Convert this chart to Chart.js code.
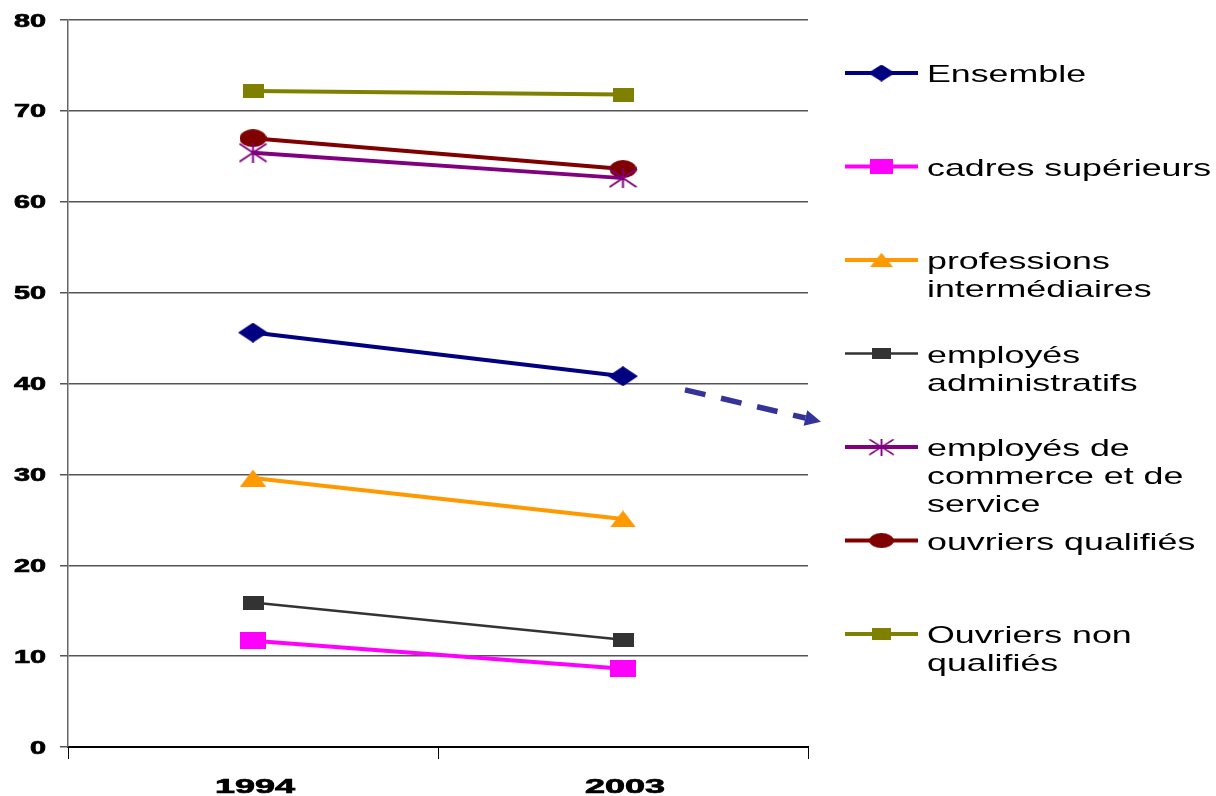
<!DOCTYPE html>
<html>
<head>
<meta charset="utf-8">
<script src="https://cdn.jsdelivr.net/npm/chart.js@4/dist/chart.umd.min.js"></script>
<style>
  html, body { margin: 0; padding: 0; background: #fff; }
  #wrap { width: 1216px; height: 796px; }
</style>
</head>
<body>
<div id="wrap"><canvas id="myChart" width="1216" height="796"></canvas></div>
<script>
// categories and values
const years = ['1994', '2003']
const ensemble = [45.6, 40.8]
const cadres = [11.7, 8.6]
const professions = [29.6, 25.1]
const employesAdmin = [15.9, 11.8]
const employesCommerce = [65.4, 62.6]
const ouvriersQualifies = [67.0, 63.6]
const ouvriersNonQualifies = [72.2, 71.8]
const yTicks = [0, 10, 20, 30, 40, 50, 60, 70, 80]

// legend labels, line breaks as in the picture
const legendLabels = [
  ['Ensemble'],
  ['cadres supérieurs'],
  ['professions', 'intermédiaires'],
  ['employés', 'administratifs'],
  ['employés de', 'commerce et de', 'service'],
  ['ouvriers qualifiés'],
  ['Ouvriers non', 'qualifiés']
]

const FONT = '"Liberation Sans", Arial, sans-serif'

// the original picture is stretched sideways, so markers are drawn wide
const makeMarker = (shape, color, w, h) => {
  let c = document.createElement('canvas')
  c.width = w
  c.height = h
  let g = c.getContext('2d')
  g.fillStyle = color
  g.strokeStyle = color
  g.beginPath()
  if (shape === 'diamond') {
    g.moveTo(w / 2, 0); g.lineTo(w, h / 2); g.lineTo(w / 2, h); g.lineTo(0, h / 2)
    g.closePath(); g.fill()
  } else if (shape === 'rect') {
    g.fillRect(0, 0, w, h)
  } else if (shape === 'triangle') {
    g.moveTo(w / 2, 0); g.lineTo(w, h); g.lineTo(0, h)
    g.closePath(); g.fill()
  } else if (shape === 'ellipse') {
    g.ellipse(w / 2, h / 2, w / 2, h / 2, 0, 0, Math.PI * 2)
    g.fill()
  } else if (shape === 'star') {
    g.lineWidth = 2
    g.moveTo(1, 1); g.lineTo(w - 1, h - 1)
    g.moveTo(w - 1, 1); g.lineTo(1, h - 1)
    g.moveTo(w / 2, 0); g.lineTo(w / 2, h)
    g.stroke()
  }
  return c
}

const buildSet = (label, data, color, marker, width) => ({
  label: label,
  data: data,
  borderColor: color,
  backgroundColor: color,
  pointStyle: marker,
  pointRadius: 10,
  borderWidth: width
})

const dataSets = [
  buildSet('Ensemble', ensemble, '#000080', makeMarker('diamond', '#000080', 30, 20), 4),
  buildSet('cadres supérieurs', cadres, '#ff00ff', makeMarker('rect', '#ff00ff', 26, 17), 4),
  buildSet('professions intermédiaires', professions, '#ff9900', makeMarker('triangle', '#ff9900', 26, 17), 4),
  buildSet('employés administratifs', employesAdmin, '#333333', makeMarker('rect', '#333333', 21, 14), 2.5),
  buildSet('employés de commerce et de service', employesCommerce, '#800080', makeMarker('star', '#800080', 29, 20), 4),
  buildSet('ouvriers qualifiés', ouvriersQualifies, '#800000', makeMarker('ellipse', '#800000', 27, 18), 4),
  buildSet('Ouvriers non qualifiés', ouvriersNonQualifies, '#808000', makeMarker('rect', '#808000', 21, 14), 4)
]

const drawStretched = (ctx, text, x, y, align, sx, heavy) => {
  ctx.save()
  ctx.translate(x, y)
  ctx.scale(sx, 1)
  ctx.textAlign = align
  ctx.textBaseline = 'alphabetic'
  ctx.fillText(text, 0, 0)
  if (heavy) {
    ctx.strokeStyle = ctx.fillStyle
    ctx.lineWidth = heavy
    ctx.strokeText(text, 0, 0)
  }
  ctx.restore()
}

// tick labels drawn by hand, stretched like the original
const wideTicks = {
  id: 'wideTicks',
  afterDraw(chart) {
    const ctx = chart.ctx,
          xs = chart.scales.x,
          ys = chart.scales.y
    ctx.save()
    ctx.fillStyle = '#000'
    ctx.font = 'bold 18px ' + FONT
    yTicks.forEach(v => {
      drawStretched(ctx, String(v), 46, ys.getPixelForValue(v) + 6.5, 'right', 1.6, 0.7)
    })
    ctx.font = 'bold 20px ' + FONT
    years.forEach((yr, i) => {
      drawStretched(ctx, yr, xs.getPixelForValue(i) + 2, 793, 'center', 1.8, 0.7)
    })
    ctx.restore()
  }
}

// legend drawn by hand, labels go on several lines
const sideLegend = {
  id: 'sideLegend',
  afterDraw(chart) {
    const ctx = chart.ctx,
          area = chart.chartArea
    const x0 = area.right + 37,
          x1 = area.right + 110,
          tx = area.right + 119
    ctx.save()
    ctx.font = '24px ' + FONT
    chart.data.datasets.forEach((ds, i) => {
      const y = 73 + i * 93.5
      ctx.strokeStyle = ds.borderColor
      ctx.lineWidth = ds.borderWidth
      ctx.beginPath()
      ctx.moveTo(x0, y)
      ctx.lineTo(x1, y)
      ctx.stroke()
      const m = ds.pointStyle,
            mw = m.width * 0.9,
            mh = m.height * 0.85
      ctx.drawImage(m, (x0 + x1) / 2 - mw / 2, y - mh / 2, mw, mh)
      ctx.fillStyle = '#000'
      legendLabels[i].forEach((line, j) => {
        drawStretched(ctx, line, tx, y + 9 + j * 28, 'left', 1.49)
      })
    })

    // dashed arrow next to the 2003 point of Ensemble
    const xs = chart.scales.x,
          ys = chart.scales.y
    const ax = xs.getPixelForValue(1) + 62,
          ay = ys.getPixelForValue(39.3),
          bx = area.right + 13,
          by = ys.getPixelForValue(35.8)
    const ang = Math.atan2(by - ay, bx - ax)
    const hx = bx - 16 * Math.cos(ang),
          hy = by - 16 * Math.sin(ang)
    ctx.strokeStyle = '#333399'
    ctx.fillStyle = '#333399'
    ctx.lineWidth = 5.5
    ctx.setLineDash([21, 16])
    ctx.beginPath()
    ctx.moveTo(ax, ay)
    ctx.lineTo(hx, hy)
    ctx.stroke()
    ctx.setLineDash([])
    ctx.beginPath()
    ctx.moveTo(bx, by)
    ctx.lineTo(hx + 8 * Math.sin(ang), hy - 8 * Math.cos(ang))
    ctx.lineTo(hx - 8 * Math.sin(ang), hy + 8 * Math.cos(ang))
    ctx.closePath()
    ctx.fill()
    ctx.restore()
  }
}

let ctx = document.getElementById('myChart').getContext('2d'),
    chart = new Chart(ctx, {
  type: 'line',
  data: {
    labels: years,
    datasets: dataSets
  },
  options: {
    responsive: false,
    animation: false,
    layout: { padding: { top: 20, right: 408, left: 0, bottom: 0 } },
    plugins: {
      legend: { display: false },
      tooltip: { enabled: false }
    },
    scales: {
      x: {
        offset: true,
        grid: {
          offset: true,
          drawOnChartArea: false,
          drawTicks: true,
          tickLength: 12,
          color: '#000'
        },
        border: { color: '#000', width: 2 },
        ticks: { display: false },
        afterFit: scale => { scale.height = 49 }
      },
      y: {
        min: 0,
        max: 80,
        afterBuildTicks: scale => { scale.ticks = yTicks.map(v => ({ value: v })) },
        grid: {
          color: '#555',
          lineWidth: 1.5,
          tickLength: 8
        },
        border: { color: '#666', width: 1.5 },
        ticks: { display: false },
        afterFit: scale => { scale.width = 68 }
      }
    }
  },
  plugins: [wideTicks, sideLegend]
})
</script>
</body>
</html>
